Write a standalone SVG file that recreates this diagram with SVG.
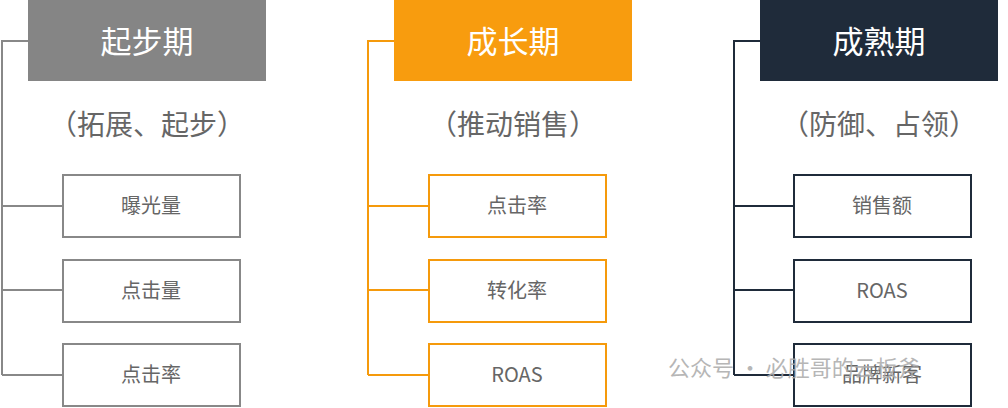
<svg xmlns="http://www.w3.org/2000/svg" width="1008" height="408" viewBox="0 0 1008 408">
<style>
.h{font-family:"Noto Sans CJK SC","Noto Sans",sans-serif;font-size:31px;fill:#fff;text-anchor:middle}
.s{font-family:"Noto Sans CJK SC","Noto Sans",sans-serif;font-size:28px;fill:#666;text-anchor:middle}
.b{font-family:"Noto Sans CJK SC","Liberation Sans",sans-serif;font-size:20px;fill:#666;text-anchor:middle}
.box{fill:#fff;stroke-width:2}
.c{fill:none;stroke-width:2}
</style>
<rect width="1008" height="408" fill="#fff"/>
<g id="connectors">
<path class="c" stroke="#888" d="M28 41H2V375M2 206H63M2 290H63M2 375H63"/>
<path class="c" stroke="#F59A0C" d="M394 41H368V375M368 206H429M368 290H429M368 375H429"/>
<path class="c" stroke="#1F2B3A" d="M760 41H734V375M734 206H794M734 290H794M734 375H794"/>
</g>
<g id="col1">
<rect x="28" y="0" width="238" height="81" fill="#858585"/>
<text class="h" x="147" y="53">起步期</text>
<text class="s" x="147" y="135">（拓展、起步）</text>
</g>
<g id="col2">
<rect x="394" y="0" width="238" height="81" fill="#F89C0E"/>
<text class="h" x="513" y="53">成长期</text>
<text class="s" x="513" y="135">（推动销售）</text>
</g>
<g id="col3">
<rect x="760" y="0" width="238" height="81" fill="#1F2B3A"/>
<text class="h" x="879" y="53">成熟期</text>
<text class="s" x="879" y="135">（防御、占领）</text>
</g>
<g id="n1a"><rect class="box" stroke="#888" x="63" y="175" width="177" height="62"/><text class="b" x="151" y="213">曝光量</text></g>
<g id="n1b"><rect class="box" stroke="#888" x="63" y="260" width="177" height="62"/><text class="b" x="151" y="298">点击量</text></g>
<g id="n1c"><rect class="box" stroke="#888" x="63" y="344" width="177" height="62"/><text class="b" x="151" y="382">点击率</text></g>
<g id="n2a"><rect class="box" stroke="#F59A0C" x="429" y="175" width="177" height="62"/><text class="b" x="517" y="213">点击率</text></g>
<g id="n2b"><rect class="box" stroke="#F59A0C" x="429" y="260" width="177" height="62"/><text class="b" x="517" y="298">转化率</text></g>
<g id="n2c"><rect class="box" stroke="#F59A0C" x="429" y="344" width="177" height="62"/><text class="b" x="517" y="382">ROAS</text></g>
<g id="n3a"><rect class="box" stroke="#1F2B3A" x="794" y="175" width="177" height="62"/><text class="b" x="882" y="213">销售额</text></g>
<g id="n3b"><rect class="box" stroke="#1F2B3A" x="794" y="260" width="177" height="62"/><text class="b" x="882" y="298">ROAS</text></g>
<g id="n3c"><rect class="box" stroke="#1F2B3A" x="794" y="344" width="177" height="62"/><text class="b" x="882" y="382">品牌新客</text></g>
<text x="668" y="376" font-family="Noto Sans CJK SC,sans-serif" font-size="22" fill="#aaa" opacity="0.85">公众号 · 必胜哥的云板斧</text>
</svg>
